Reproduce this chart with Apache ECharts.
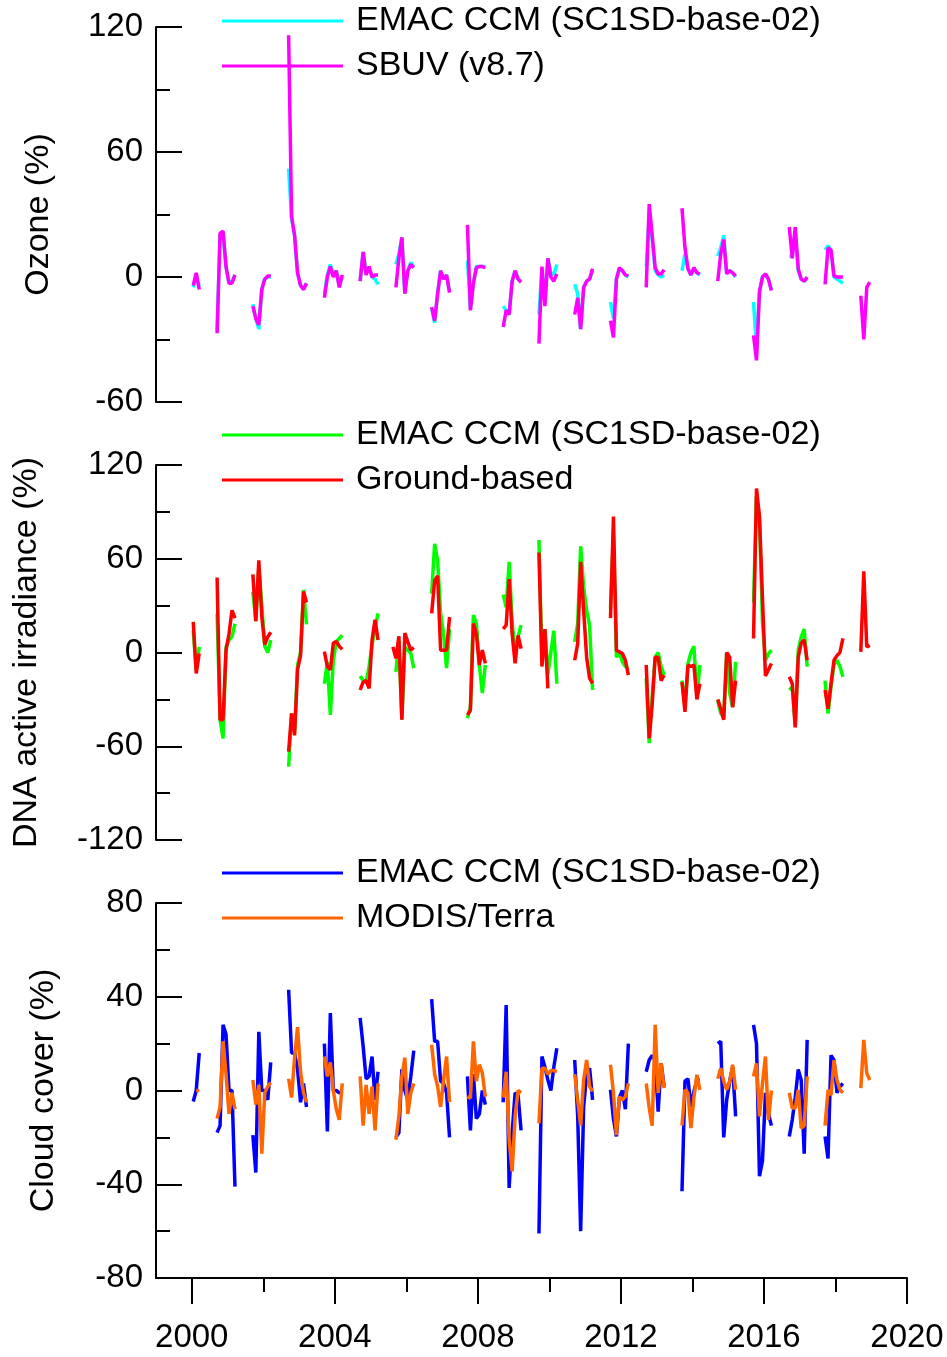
<!DOCTYPE html>
<html><head><meta charset="utf-8">
<script src="https://cdn.jsdelivr.net/npm/echarts@6/dist/echarts.min.js"></script>
<style>html,body{margin:0;padding:0;background:#fff}#c{width:947px;height:1357px}</style>
</head><body><div id="c"></div>
<script>
// ---- Data (monthly anomalies, %) : [first month 'YYYY-MM', consecutive monthly values] ----
const ozoneEMAC = [
 ['2000-01',[-5,1,-5]],
 ['2000-09',[-26,20,21,5,-3,-2,1]],
 ['2001-09',[-13,-20,-25,-6,-1,0,0]],
 ['2002-09',[52,28,20,2,-4,-6,-3]],
 ['2003-09',[-8,1,6,1,3,-4,0]],
 ['2004-09',[-2,12,2,4,0,-1,-3.5]],
 ['2005-09',[6,11,19,-7,3,7,5]],
 ['2006-09',[-15,-22,-8,3,-1,1,-7]],
 ['2007-09',[8,-15,-3,5,5,5,5]],
 ['2008-09',[-14,-16,-18,-2,3,-1,-2]],
 ['2009-09',[-18,4,-12,9,2,1,6]],
 ['2010-09',[-3.5,-8,-25,-5,-2,-1,3]],
 ['2011-09',[-12,-20,-1,4,3,1,0]],
 ['2012-09',[5,30,18,3,1,0,1]],
 ['2013-09',[3,11,4,1,4,2,1]],
 ['2014-09',[10,14,20,2,3,2,0]],
 ['2015-09',[-12,-34,-7,0,1.5,-1,-6]],
 ['2016-09',[10,10,22,3,-1,-2,-1]],
 ['2017-09',[13,15,13,0,-1,-2,-3]]
];
const ozoneSBUV = [
 ['2000-01',[-4,2,-6]],
 ['2000-09',[-27,21,22,5,-3,-3,1]],
 ['2001-09',[-14,-20,-23,-6,-1,0.5,0.5]],
 ['2002-09',[116,29,20,2,-4,-6,-3]],
 ['2003-09',[-10,0,5,0,3,-5,1]],
 ['2004-09',[-2,12,1,5,0,1,1]],
 ['2005-09',[-5,9,19,-8,3,6,4.5]],
 ['2006-09',[-14.5,-21,-8,3,-1,1,-7.5]],
 ['2007-09',[25,-16,-3,4.5,5,5,4.5]],
 ['2008-09',[-24,-16,-18,-2,3,-1,-2.5]],
 ['2009-09',[-32,5,-14,9,0,-2,1.5]],
 ['2010-09',[-18,-10,-25,-5,-2,-1,4]],
 ['2011-09',[-21,-29,-1,4.5,3,1,0.5]],
 ['2012-09',[-5,35,20,4.5,1.5,1.5,3.5]],
 ['2013-09',[33,14,4,1,4.5,2,1.5]],
 ['2014-09',[-2,11,18,1.5,3,2,0.5]],
 ['2015-09',[-28,-40,-7,0,1.5,-1,-6.5]],
 ['2016-09',[24,9,24,4,-1,-2,0]],
 ['2017-09',[-3.5,14,13,0.5,0,0,0]],
 ['2018-09',[-9,-30,-5,-2.5]]
];
const dnaEMAC = [
 ['2000-01',[14,-11,3.6]],
 ['2000-09',[25,-43,-55,3.6,8,10,18.5]],
 ['2001-09',[38.8,20,55,30,4,0,8]],
 ['2002-09',[-73,-39,-50,-8,0,40,18]],
 ['2003-09',[-20,-6,-40,-5,7,9,11]],
 ['2004-09',[-15,-18,-19,-9,5,15,25]],
 ['2005-09',[-12.4,7.9,-43,3.6,1.5,-0.6,-10]],
 ['2006-09',[37.7,69.6,59,25,12,-10,15]],
 ['2007-09',[-42,-35,24,18.5,-8,-26,-8]],
 ['2008-09',[37,29,58,20,0,10,17.5]],
 ['2009-09',[72,-4,15,-14,0,14,-20]],
 ['2010-09',[6.8,18.5,68,42,27,17.4,-24]],
 ['2011-09',[28,75,-3,0,-6,-9,-9]],
 ['2012-09',[-16.6,-58,-28,-3,0,-9,-14.5]],
 ['2013-09',[-18,-35,-7,0,4,-28,-8]],
 ['2014-09',[-31,-39,-41,0,-26,-35,-6]],
 ['2015-09',[32,100,85,20,-5,-1,1.5]],
 ['2016-09',[-24,-22,-47,1.5,10,15,-9]],
 ['2017-09',[-18,-39,-22,-8,-5,-9,-15.5]]
];
const dnaGround = [
 ['2000-01',[19.6,-13.4,-0.6]],
 ['2000-09',[48,-43,-43,1.5,12,27,22]],
 ['2001-09',[50,20,59,23,5,10,13]],
 ['2002-09',[-63.5,-39,-53,-11,-2,39,32]],
 ['2003-09',[0.5,-9,-11,6,7,4,2]],
 ['2004-09',[-24,-19,-18,-23,8,21,8]],
 ['2005-08',[3.6,-3.8,10.4,-43,12.5,6.8,1.5,3.2]],
 ['2006-09',[25,46,49,1.5,1.5,1.5,22.7]],
 ['2007-09',[-40,-37,18.5,12,-8,1.5,-7]],
 ['2008-09',[15,17.5,47,12,-7,11,2.5]],
 ['2009-09',[64,-9,15,-23]],
 ['2010-09',[-5,5.7,58,27,-3,-16.6,-19.8]],
 ['2011-09',[22,87,1.5,0.4,-0.6,-5,-14.5]],
 ['2012-09',[-8,-55,-33,-3,-3,-18,-14.5]],
 ['2013-09',[-19,-38,-8,-9,-8,-30,-20]],
 ['2014-09',[-30,-36,-43,0,-3,-35,-18]],
 ['2015-09',[9,105,87,35,-15,-11,-7]],
 ['2016-09',[-15.5,-20,-48,-3,6,8,-5]],
 ['2017-09',[-24,-36,-20,-5,-2,0,9]],
 ['2018-09',[0.4,52,3.6,4.7]]
];
const cloudEMAC = [
 ['2000-01',[-4.7,0,16]],
 ['2000-09',[-18,-15,28,24,0,0,-41]],
 ['2001-09',[-19,-35,25,0,0,-4,12]],
 ['2002-09',[43,16,16,9,-5,3,-7]],
 ['2003-09',[20,-17.5,33,0,0,-1,-1]],
 ['2004-09',[31,19,5,6,14.5,-4,8]],
 ['2005-09',[-20,-18,9,0,-4,6,17]],
 ['2006-09',[39,21,21,4,3,-1,-20]],
 ['2007-09',[6,-17,7,-12,-10,0,-6]],
 ['2008-09',[-5,36.5,-41.6,-18,-1,-2,-17]],
 ['2009-09',[-61,14.5,10,4.5,0,10,18]],
 ['2010-09',[13,-11,-60,-7,7,9.5,-4]],
 ['2011-09',[0.3,-12,-19.6,-3,0,-8,20]],
 ['2012-09',[8,13,15,13,-9,11.6,1.7]],
 ['2013-09',[-43,4,5,-7,-0.4,4.5,4.5]],
 ['2014-09',[20,21,-20,-4,4,10,-11]],
 ['2015-09',[28,20,-36.6,-30,-1,-9.7,-15]],
 ['2016-09',[-19.6,-12.5,-3,9,4.5,-27,21.6]],
 ['2017-09',[-19.6,-29,15,13,-1,1.7,3]]
];
const cloudMODIS = [
 ['2000-02',[0,0]],
 ['2000-09',[-12,-7,21,7,-10,-1,-8]],
 ['2001-09',[4.5,-6,2.4,-27,-1,1.7,3.4]],
 ['2002-09',[5,-3,14,27,8,-1,-5]],
 ['2003-09',[14.5,6,12,0,-8,-12.5,3]],
 ['2004-09',[6,-15,2.4,-10,1.7,-17,3]],
 ['2005-09',[-21,-11,6,14,-10,-1,3]],
 ['2006-09',[19.5,7,1.7,-7,4.5,14.5,-5]],
 ['2007-09',[-2.6,-3.3,21,4,11,7.5,-2.6]],
 ['2008-09',[-3,8,-21,-34.5,-11,0,-1]],
 ['2009-09',[-14,9.5,9.5,7,8.5,8.5,8]],
 ['2010-09',[7,-4,-15,4.5,13,1.7,-0.4]],
 ['2011-09',[11,-1,-19,-2.6,-4,-2.6,3]],
 ['2012-09',[3,-7.5,-15,28,-1,11.6,1]],
 ['2013-09',[-15,0.3,-1,-16,-3,6.7,0.3]],
 ['2014-09',[5,9.5,4,0.3,4,11,0.3]],
 ['2015-09',[6,11.6,-11,3,14.5,-12.5,0]],
 ['2016-09',[-1,-7.5,-7.5,0.3,-16,-15,6]],
 ['2017-09',[-15,0.3,-2,13,4.5,0.3,-1]],
 ['2018-09',[1,21.6,7.4,4.5]]
];
const xMajorTicks = [2000,2004,2008,2012,2016,2020];
const xMinorTicks = [2002,2006,2010,2014,2018];
const EMAC = 'EMAC CCM (SC1SD-base-02)';

// ---- helpers ----
function build(seasons){
  const out=[];
  seasons.forEach(([start,vals])=>{
    const [y,m]=start.split('-').map(Number);
    vals.forEach((v,k)=>{ out.push([y+(m-1+k+0.5)/12, v]); });
    out.push([y+(m-1+vals.length+0.5)/12, null]);
  });
  return out;
}
const FONT='Liberation Sans, Arial, sans-serif';
const black={color:'#000',width:2};
const GL=156, GW=751, GH=375, TOPS=[27,465,903];

function yAxis(i,min,max,interval,name,gap){
  return {type:'value',gridIndex:i,min,max,interval,
    name,nameLocation:'middle',nameGap:gap,nameRotate:90,
    nameTextStyle:{fontSize:34,color:'#000',fontFamily:FONT},
    axisLine:{show:true,lineStyle:black},
    axisTick:{show:true,inside:true,length:26,lineStyle:black},
    minorTick:{show:true,splitNumber:2,length:14,lineStyle:black},
    splitLine:{show:false},minorSplitLine:{show:false},
    axisLabel:{fontSize:33,color:'#000',fontFamily:FONT,margin:13,formatter:v=>String(v)}};
}
function legend(top,names){
  return {orient:'vertical',left:222,top,padding:0,itemGap:5,icon:'rect',itemWidth:121,itemHeight:3,
    selectedMode:false,data:names,formatter:n=>n.trim(),
    textStyle:{fontSize:34,lineHeight:40,color:'#000',fontFamily:FONT,padding:[0,0,0,8]}};
}
function line(name,data,color,xi,yi,z){
  return {type:'line',name,data:build(data),xAxisIndex:xi,yAxisIndex:yi,showSymbol:false,
    symbol:'none',connectNulls:false,z,lineStyle:{color,width:3.5},itemStyle:{color},animation:false};
}

const chart=echarts.init(document.getElementById('c'),null,{renderer:'canvas'});
chart.setOption({
  backgroundColor:'#fff',
  animation:false,
  grid:TOPS.map(t=>({left:GL,top:t,width:GW,height:GH,containLabel:false})),
  xAxis:[
    {type:'value',gridIndex:0,min:1999,max:2020,show:false},
    {type:'value',gridIndex:1,min:1999,max:2020,show:false},
    {type:'value',gridIndex:2,min:1999,max:2020,position:'bottom',
      axisLine:{show:true,onZero:false,lineStyle:black},
      axisTick:{show:true,length:26,customValues:xMajorTicks,lineStyle:black},
      axisLabel:{customValues:xMajorTicks,fontSize:33,color:'#000',fontFamily:FONT,margin:43,formatter:v=>String(v)},
      splitLine:{show:false}},
    {type:'value',gridIndex:2,min:1999,max:2020,position:'bottom',
      axisLine:{show:false,onZero:false},
      axisTick:{show:true,length:14,customValues:xMinorTicks,lineStyle:black},
      axisLabel:{show:false},splitLine:{show:false}}
  ],
  yAxis:[
    yAxis(0,-60,120,60,'Ozone (%)',100),
    yAxis(1,-120,120,60,'DNA active irradiance (%)',112),
    yAxis(2,-80,80,40,'Cloud cover (%)',95)
  ],
  legend:[
    legend(1,[EMAC,'SBUV (v8.7)']),
    legend(415,[EMAC+' ','Ground-based']),
    legend(853,[EMAC+'  ','MODIS/Terra'])
  ],
  series:[
    line(EMAC,ozoneEMAC,'#00FFFF',0,0,2),
    line('SBUV (v8.7)',ozoneSBUV,'#FF00FF',0,0,3),
    line(EMAC+' ',dnaEMAC,'#00FF00',1,1,2),
    line('Ground-based',dnaGround,'#FF0000',1,1,3),
    line(EMAC+'  ',cloudEMAC,'#0000FF',2,2,2),
    line('MODIS/Terra',cloudMODIS,'#FF6600',2,2,3)
  ]
});
</script></body></html>
